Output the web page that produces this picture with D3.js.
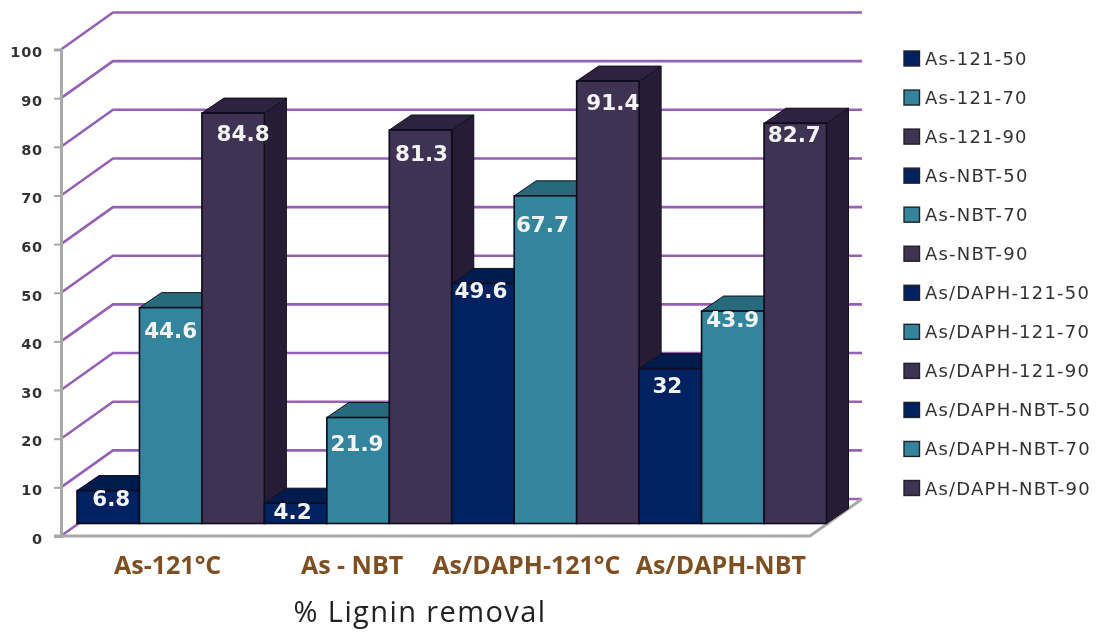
<!DOCTYPE html>
<html><head><meta charset="utf-8">
<script src="https://cdn.jsdelivr.net/npm/d3@7"></script>
<style>html,body{margin:0;padding:0;background:#fff}svg{display:block}</style>
</head><body><div id="chart"></div>
<script>
const categories = ["As-121°C", "As - NBT", "As/DAPH-121°C", "As/DAPH-NBT"];
const temperatures = ["50", "70", "90"];
const values121 = [6.8, 44.6, 84.8];
const valuesNBT = [4.2, 21.9, 81.3];
const valuesDaph121 = [49.6, 67.7, 91.4];
const valuesDaphNBT = [32, 43.9, 82.7];
const legendLabels = ["As-121-50","As-121-70","As-121-90","As-NBT-50","As-NBT-70","As-NBT-90",
  "As/DAPH-121-50","As/DAPH-121-70","As/DAPH-121-90","As/DAPH-NBT-50","As/DAPH-NBT-70","As/DAPH-NBT-90"];
const yTicks = [0,10,20,30,40,50,60,70,80,90,100];
const seriesValues = [values121, valuesNBT, valuesDaph121, valuesDaphNBT];

// styling and hand placement
const front = ["#002060","#31859c","#403152"];
const top3d = ["#001a4d","#256a7c","#2e2340"];
const side3d = ["#00153f","#1f5a6a","#281f35"];
const labelNudge = [[3,7],[0,22],[10,20],[-3,8],[-1,25],[1,23],[-2,7],[-3,28],[5,21],[-3,16],[0,8],[-1,11]];
const categoryNudge = [-3,-6,-19,-12];

const W=1097,H=632;
const svg=d3.select("#chart").append("svg").attr("width",W).attr("height",H);
const defs=svg.append("defs");
defs.append("filter").attr("id","soft").attr("x","-5%").attr("y","-5%").attr("width","110%").attr("height","110%")
  .append("feGaussianBlur").attr("stdDeviation",0.6);
const g=svg.append("g").attr("filter","url(#soft)");

const axisY=d3.scaleLinear().domain([0,100]).range([536,49.5]);
const barY=d3.scaleLinear().domain([0,100]).range([523.5,39.5]);
const groupX=d3.scaleBand().domain(categories).range([77,826.5]);
const barX=d3.scaleBand().domain(temperatures).range([0,groupX.bandwidth()]);
const floorX=[61,810], wallDepth=[52,-37], barDepth=[22,-15];

// gridlines
yTicks.forEach(t=>{
  const y=axisY(t);
  g.append("polyline").attr("fill","none").attr("stroke","#9560b8").attr("stroke-width",2.6)
   .attr("points",[[floorX[0],y],[floorX[0]+wallDepth[0],y+wallDepth[1]],[floorX[1]+wallDepth[0],y+wallDepth[1]]].join(" "));
});
// floor edge
g.append("polyline").attr("fill","none").attr("stroke","#a9a9a9").attr("stroke-width",3)
 .attr("points",[[floorX[0]-7,axisY(0)],[floorX[1],axisY(0)],[floorX[1]+wallDepth[0],axisY(0)+wallDepth[1]]].join(" "));

// y axis
const yAxis=d3.axisLeft(axisY).tickValues(yTicks).tickSize(7).tickPadding(11);
const ax=g.append("g").attr("transform",`translate(${floorX[0]},0)`).call(yAxis);
ax.select(".domain").attr("stroke","#a9a9a9").attr("stroke-width",3);
ax.selectAll(".tick line").attr("stroke","#a9a9a9").attr("stroke-width",2);
ax.selectAll("text").attr("font-family","DejaVu Sans").attr("font-weight","bold").attr("font-size",14.5)
  .attr("letter-spacing",0.8).attr("fill","#333").attr("dy","0.5em");

// bars
const bars=[];
categories.forEach((c,ci)=>temperatures.forEach((t,ti)=>bars.push({c,t,ti,v:seriesValues[ci][ti]})));
const [dx,dy]=barDepth;
const sel=g.selectAll("g.bar").data(bars).join("g").attr("class","bar");
const xL=d=>groupX(d.c)+barX(d.t), xR=d=>xL(d)+barX.bandwidth();
const base=barY(0);
sel.append("polygon").attr("fill",d=>side3d[d.ti]).attr("stroke","#14101c").attr("stroke-width",1)
  .attr("points",d=>[[xR(d),barY(d.v)],[xR(d)+dx,barY(d.v)+dy],[xR(d)+dx,base+dy],[xR(d),base]].join(" "));
sel.append("polygon").attr("fill",d=>top3d[d.ti]).attr("stroke","#14101c").attr("stroke-width",1)
  .attr("points",d=>[[xL(d),barY(d.v)],[xL(d)+dx,barY(d.v)+dy],[xR(d)+dx,barY(d.v)+dy],[xR(d),barY(d.v)]].join(" "));
sel.append("rect").attr("x",xL).attr("y",d=>barY(d.v)).attr("width",barX.bandwidth()).attr("height",d=>base-barY(d.v))
  .attr("fill",d=>front[d.ti]).attr("stroke","#0a0a1c").attr("stroke-width",1.6);

// value labels
g.selectAll("text.val").data(bars).join("text").attr("class","val")
  .attr("x",(d,i)=>xL(d)+barX.bandwidth()/2+labelNudge[i][0])
  .attr("y",(d,i)=>barY(d.v)+labelNudge[i][1]+8)
  .attr("text-anchor","middle").attr("font-family","DejaVu Sans").attr("font-weight","bold")
  .attr("font-size",21.5).attr("fill","#f4f4f4").text(d=>d.v);

// category labels
g.selectAll("text.cat").data(categories).join("text").attr("class","cat")
  .attr("x",(d,i)=>groupX(d)+groupX.bandwidth()/2+categoryNudge[i]).attr("y",574)
  .attr("text-anchor","middle").attr("font-family","Open Sans").attr("font-weight","bold")
  .attr("font-size",25).attr("fill","#7f5020").text(d=>d);

// title
g.append("text").attr("x",420).attr("y",622).attr("text-anchor","middle")
 .attr("font-family","Open Sans").attr("font-size",29).attr("letter-spacing",1.4).attr("fill","#222").text("% Lignin removal");

// legend
const legY=d3.scalePoint().domain(legendLabels).range([58.5,488]);
const leg=g.selectAll("g.leg").data(legendLabels).join("g").attr("class","leg")
  .attr("transform",d=>`translate(904,${legY(d)})`);
leg.append("rect").attr("x",0).attr("y",-7.5).attr("width",15.5).attr("height",15)
  .attr("fill",(d,i)=>front[i%3]).attr("stroke","#222").attr("stroke-width",1.4);
leg.append("text").attr("x",21).attr("y",6.5).attr("font-family","DejaVu Sans")
  .attr("font-size",18).attr("letter-spacing",1.2).attr("fill","#333").text(d=>d);
</script></body></html>
